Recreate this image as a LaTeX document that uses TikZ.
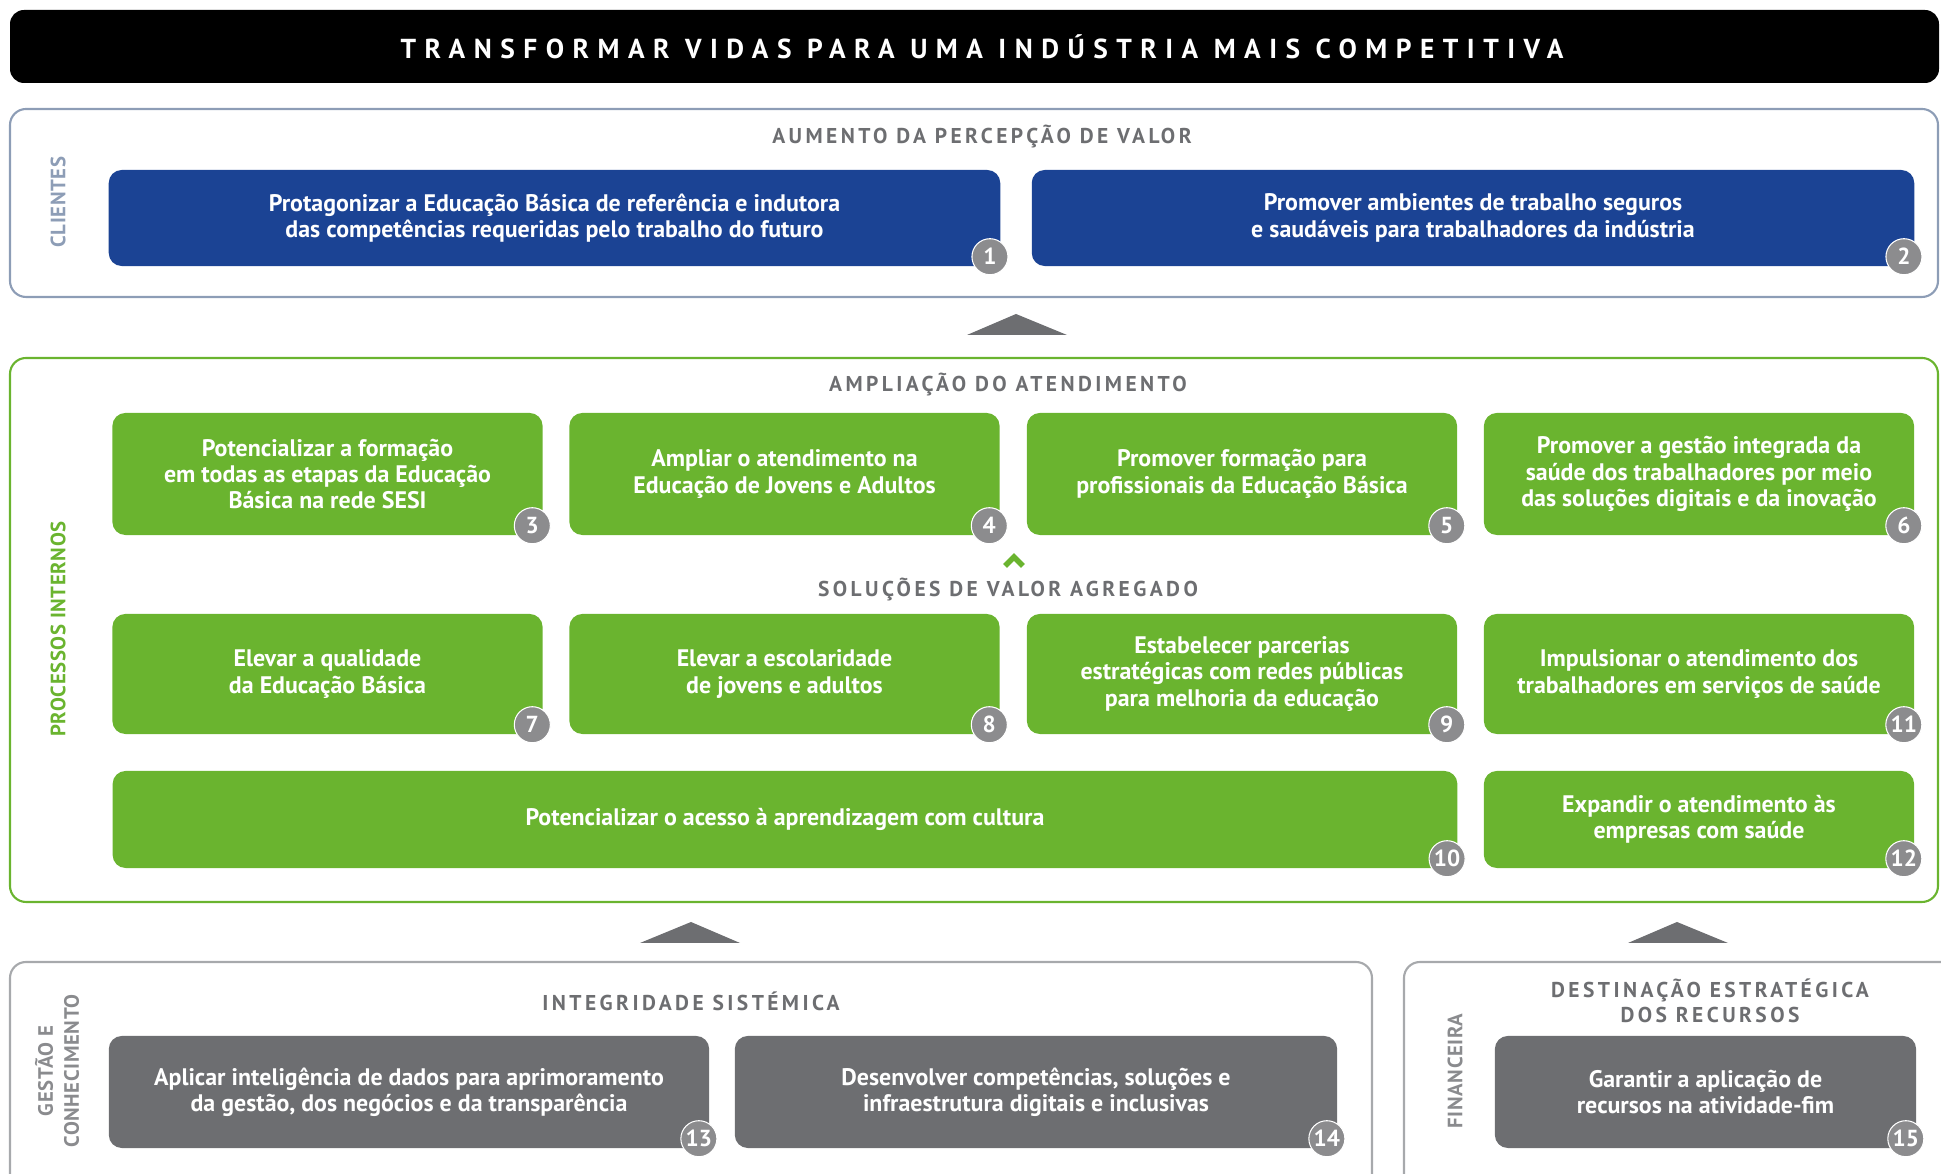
\documentclass[tikz,border=0pt]{standalone}
\usepackage{fontspec}
\setmainfont{PT Sans}
\newfontfamily\capsfont[LetterSpace=16]{PT Sans}
\newfontfamily\sidefont[LetterSpace=3]{PT Sans}
\newfontfamily\titlefont[LetterSpace=31]{PT Sans}
\usetikzlibrary{positioning}
\definecolor{cniblue}{HTML}{1B4394}
\definecolor{cnigreen}{HTML}{6AB42F}
\definecolor{cnigray}{HTML}{6D6E71}
\definecolor{badgegray}{HTML}{8C8C8E}
\definecolor{clientframe}{HTML}{8D9DB6}
\definecolor{baseframe}{HTML}{A7A9AC}
\tikzset{
  goal/.style={rounded corners=1.3mm, inner sep=0pt, align=center, text=white,
    font=\fontsize{6.8}{7.5}\selectfont\bfseries},
  bluegoal/.style={goal, fill=cniblue, minimum height=0.96cm},
  greengoal/.style={goal, fill=cnigreen, minimum width=4.3cm},
  graygoal/.style={goal, fill=cnigray, minimum height=1.12cm},
  badge/.style={circle, fill=badgegray, draw=white, line width=0.3pt, inner sep=0pt,
    minimum size=0.36cm, text=white, font=\fontsize{6.6}{7}\selectfont\bfseries},
  heading/.style={text=cnigray, font=\capsfont\fontsize{6.1}{7}\selectfont\bfseries, align=center},
  side/.style={rotate=90, font=\sidefont\fontsize{5.9}{6.6}\selectfont\bfseries, align=center},
  frame/.style={rounded corners=1.6mm, line width=0.6pt},
  lift/.style={fill=cnigray}
}
\newcommand\badgeat[2]{\node[badge] (n#2) at ([xshift=-1.1mm,yshift=1mm]#1.south east) {#2};}
\begin{document}
\begin{tikzpicture}[x=0.01cm, y=-0.01cm]
  \useasboundingbox (0,0) rectangle (1941,1174);
  % title bar
  \fill[black, rounded corners=1.4mm] (10,10) rectangle (1939,83);
  \node[text=white, font=\titlefont\fontsize{7.8}{8}\selectfont\bfseries] (title) at (982,47) {TRANSFORMAR VIDAS PARA UMA INDÚSTRIA MAIS COMPETITIVA};

  % clientes
  \draw[frame, draw=clientframe] (10,109) rectangle (1938,297);
  \node[side, text=clientframe] (clientes) at (58,202) {CLIENTES};
  \node[heading] (valor) at (982,137) {AUMENTO DA PERCEPÇÃO DE VALOR};
  \node[bluegoal, minimum width=8.91cm] (c1) at (554.5,218) {Protagonizar a Educação Básica de referência e indutora\\das competências requeridas pelo trabalho do futuro};
  \node[bluegoal, minimum width=8.82cm] (c2) at (1473,218) {Promover ambientes de trabalho seguros\\e saudáveis para trabalhadores da indústria};
  \badgeat{c1}{1}
  \badgeat{c2}{2}
  \fill[lift] (967,335) -- (1016,314) -- (1067,335) -- cycle;

  % processos internos
  \draw[frame, draw=cnigreen] (10,358) rectangle (1938,902);
  \node[side, text=cnigreen] (processos) at (58,629) {PROCESSOS INTERNOS};
  \node[heading] (ampliacao) at (1008,385) {AMPLIAÇÃO DO ATENDIMENTO};
  \node[greengoal, minimum height=1.22cm] (p3) at (327.5,474) {Potencializar a formação\\em todas as etapas da Educação\\Básica na rede SESI};
  \node[greengoal, minimum height=1.22cm] (p4) at (784.5,474) {Ampliar o atendimento na\\Educação de Jovens e Adultos};
  \node[greengoal, minimum height=1.22cm] (p5) at (1242,474) {Promover formação para\\profissionais da Educação Básica};
  \node[greengoal, minimum height=1.22cm] (p6) at (1699,474) {Promover a gestão integrada da\\saúde dos trabalhadores por meio\\das soluções digitais e da inovação};
  \draw[cnigreen, line width=1.6pt] (1005,566) -- (1014,557) -- (1023,566);
  \node[heading] (solucoes) at (1008,590) {SOLUÇÕES DE VALOR AGREGADO};
  \node[greengoal, minimum height=1.2cm] (p7) at (327.5,674) {Elevar a qualidade\\da Educação Básica};
  \node[greengoal, minimum height=1.2cm] (p8) at (784.5,674) {Elevar a escolaridade\\de jovens e adultos};
  \node[greengoal, minimum height=1.2cm] (p9) at (1242,674) {Estabelecer parcerias\\estratégicas com redes públicas\\para melhoria da educação};
  \node[greengoal, minimum height=1.2cm] (p11) at (1699,674) {Impulsionar o atendimento dos\\trabalhadores em serviços de saúde};
  \node[greengoal, minimum width=13.44cm, minimum height=0.97cm] (p10) at (785,819.5) {Potencializar o acesso à aprendizagem com cultura};
  \node[greengoal, minimum height=0.97cm] (p12) at (1699,819.5) {Expandir o atendimento às\\empresas com saúde};
  \foreach \n in {3,...,12} {\badgeat{p\n}{\n}}
  \fill[lift] (640,943) -- (691,922) -- (740,943) -- cycle;
  \fill[lift] (1628,943) -- (1677,922) -- (1728,943) -- cycle;

  % gestao e conhecimento
  \draw[frame, draw=baseframe] (10,962) rectangle (1372,1200);
  \node[side, text=cnigray!80, font=\sidefont\fontsize{5.9}{7.4}\selectfont\bfseries] (gestao) at (57,1071) {GESTÃO E\\CONHECIMENTO};
  \node[heading] (integridade) at (691,1001) {INTEGRIDADE SISTÉMICA};
  \node[graygoal, minimum width=6cm] (g13) at (409,1092) {Aplicar inteligência de dados para aprimoramento\\da gestão, dos negócios e da transparência};
  \node[graygoal, minimum width=6.02cm] (g14) at (1036,1092) {Desenvolver competências, soluções e\\infraestrutura digitais e inclusivas};
  \badgeat{g13}{13}
  \badgeat{g14}{14}

  % financeira
  \draw[frame, draw=baseframe] (1404,962) rectangle (1960,1200);
  \node[side, text=cnigray!80] (financeira) at (1455,1071) {FINANCEIRA};
  \node[heading] (destinacao) at (1710,1001) {DESTINAÇÃO ESTRATÉGICA\\DOS RECURSOS};
  \node[graygoal, minimum width=4.21cm] (f15) at (1705.5,1092) {Garantir a aplicação de\\recursos na atividade-fim};
  \badgeat{f15}{15}
\end{tikzpicture}
\end{document}
